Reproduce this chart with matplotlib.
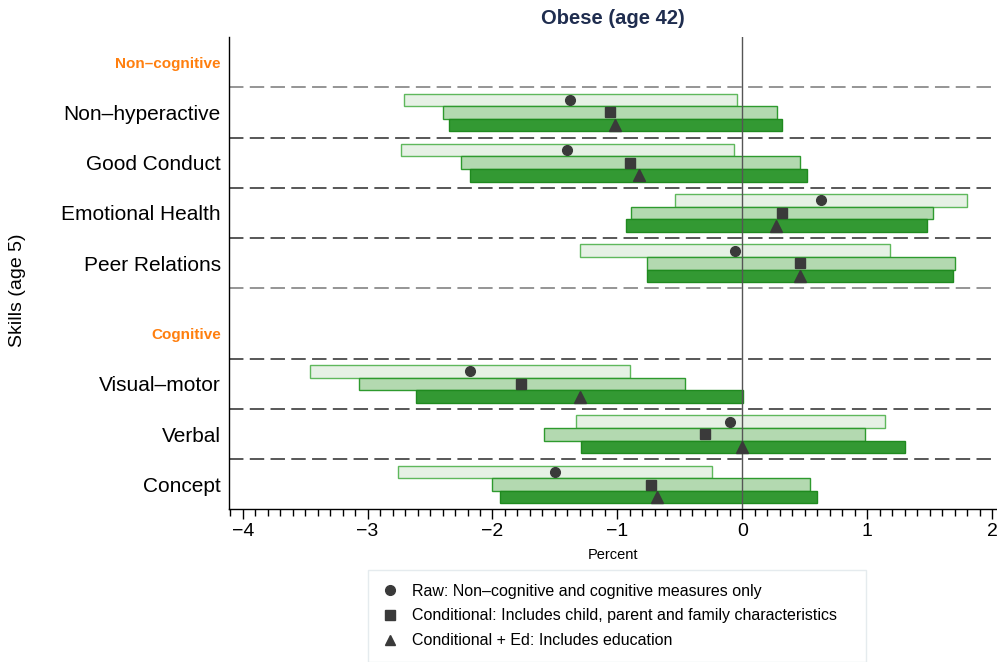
import matplotlib
matplotlib.use("Agg")
import matplotlib.pyplot as plt
from matplotlib.lines import Line2D
from matplotlib.ticker import MultipleLocator

plt.rcParams['font.family'] = ['Liberation Sans', 'DejaVu Sans']

# skills (top to bottom) and groups
noncog_skills = ["Non\u2013hyperactive", "Good Conduct", "Emotional Health", "Peer Relations"]
cog_skills = ["Visual\u2013motor", "Verbal", "Concept"]
group_names = ["Non\u2013cognitive", "Cognitive"]

# point estimates and interval ends, order = noncog_skills + cog_skills
raw_est = [-1.38, -1.40, 0.63, -0.06, -2.18, -0.10, -1.50]
raw_lo = [-2.71, -2.73, -0.54, -1.30, -3.46, -1.33, -2.76]
raw_hi = [-0.04, -0.07, 1.80, 1.18, -0.90, 1.14, -0.24]

cond_est = [-1.06, -0.90, 0.32, 0.46, -1.77, -0.30, -0.73]
cond_lo = [-2.40, -2.25, -0.89, -0.76, -3.07, -1.59, -2.00]
cond_hi = [0.28, 0.46, 1.53, 1.70, -0.46, 0.98, 0.54]

ed_est = [-1.02, -0.83, 0.27, 0.46, -1.30, 0.00, -0.68]
ed_lo = [-2.35, -2.18, -0.93, -0.76, -2.61, -1.29, -1.94]
ed_hi = [0.32, 0.52, 1.48, 1.69, 0.01, 1.30, 0.60]

legend_labels = ["Raw: Non\u2013cognitive and cognitive measures only",
                 "Conditional: Includes child, parent and family characteristics",
                 "Conditional + Ed: Includes education"]

# row positions (one unit per skill row, extra gap before the second group)
gap = 0.4
head_pos = [0, len(noncog_skills) + 1 + gap]
skill_pos = [1 + i for i in range(len(noncog_skills))] + \
            [head_pos[1] + 1 + i for i in range(len(cog_skills))]

fig = plt.figure(figsize=(9.97, 6.62), dpi=100)
ax = fig.add_axes([229/997, 1 - 509/662, 1 - 229/997, (509 - 37)/662])

series = [
    (raw_lo, raw_hi, raw_est, -0.25, "#e6f1e5", "#5fb85c", "o", 7),
    (cond_lo, cond_hi, cond_est, 0.0, "#b3d9b0", "#2e9a2e", "s", 7),
    (ed_lo, ed_hi, ed_est, 0.25, "#339933", "#1f8a1f", "^", 8),
]
for lo, hi, est, off, fc, ec, mk, ms in series:
    ys = [p + off for p in skill_pos]
    widths = [h - l for l, h in zip(lo, hi)]
    ax.barh(ys, widths, left=lo, height=0.25, color=fc, edgecolor=ec,
            linewidth=1.0, zorder=2)
    ax.plot(est, ys, linestyle="none", marker=mk, markersize=ms,
            color="#3a3a3a", zorder=4)

# separators
light_lines = [0.5, len(noncog_skills) + 0.5]
dark_lines = [p + 0.5 for p in skill_pos[:len(noncog_skills) - 1]] + \
             [head_pos[1] + 0.5] + [p + 0.5 for p in skill_pos[len(noncog_skills):-1]]
for y in light_lines:
    ax.axhline(y, color="#8c8c8c", lw=1.3, dashes=(8, 3.5), zorder=1)
for y in dark_lines:
    ax.axhline(y, color="#4a4a4a", lw=1.3, dashes=(8, 3.5), zorder=1)

ax.axvline(0, color="#555555", lw=1.0, zorder=3)

ax.set_xlim(-4.11, 2.04)
ax.set_ylim(skill_pos[-1] + 0.487, -0.5)

ax.xaxis.set_major_locator(MultipleLocator(1))
ax.xaxis.set_minor_locator(MultipleLocator(0.1))
ax.tick_params(axis="x", which="major", length=7, width=1, labelsize=14, pad=3)
ax.tick_params(axis="x", which="minor", length=5, width=1)

yt = head_pos[:1] + skill_pos[:len(noncog_skills)] + head_pos[1:] + skill_pos[len(noncog_skills):]
yl = group_names[:1] + noncog_skills + group_names[1:] + cog_skills
ax.set_yticks(yt)
ax.set_yticklabels(yl, fontsize=15)
ax.tick_params(axis="y", length=0, pad=6)
for lab in ax.get_yticklabels():
    if lab.get_text() in group_names:
        lab.set_color("#ff7f0e")
        lab.set_fontweight("bold")
        lab.set_fontsize(11)

for s in ["top", "right"]:
    ax.spines[s].set_visible(False)
ax.spines["left"].set_linewidth(1.0)
ax.spines["bottom"].set_linewidth(1.0)

ax.set_title("Obese (age 42)", fontsize=14.5, fontweight="bold", color="#1f2d4f", pad=9)
ax.set_xlabel("Percent", fontsize=10.5, labelpad=6)
fig.text(18/997, 1 - 290/662, "Skills (age 5)", rotation=90, fontsize=14,
         ha="center", va="center")

handles = [Line2D([], [], linestyle="none", marker=m, markersize=7, color="#3a3a3a")
           for m in ["o", "s", "^"]]
leg = fig.legend(handles, legend_labels, loc="upper left",
                 bbox_to_anchor=(368/997, 1 - 570/662 - 0.1, (866 - 368)/997, 0.1),
                 mode="expand", fontsize=11.5, frameon=True, fancybox=False,
                 borderaxespad=0, borderpad=0.85, handlelength=1.0,
                 handletextpad=0.9, labelspacing=0.62)
leg.get_frame().set_edgecolor("#dfe6ea")
leg.get_frame().set_linewidth(1.0)

fig.savefig("out.png", dpi=100)
